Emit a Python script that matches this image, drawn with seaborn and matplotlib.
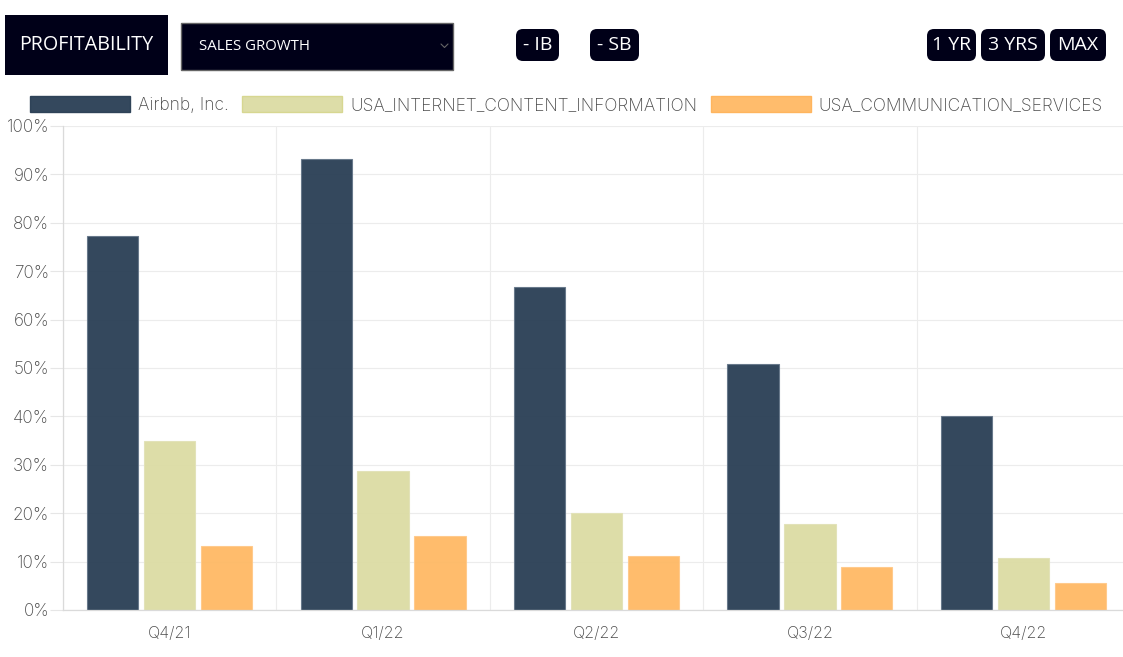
import matplotlib
matplotlib.use("Agg")
import matplotlib.pyplot as plt
from matplotlib.patches import FancyBboxPatch, Rectangle
import numpy as np
import pandas as pd
import seaborn as sns

quarters = ["Q4/21", "Q1/22", "Q2/22", "Q3/22", "Q4/22"]
series_names = ["Airbnb, Inc.", "USA_INTERNET_CONTENT_INFORMATION", "USA_COMMUNICATION_SERVICES"]
airbnb = [77.2, 93.1, 66.8, 50.9, 40.0]
internet = [35.0, 28.8, 20.0, 17.8, 10.8]
communication = [13.2, 15.2, 11.1, 8.9, 5.5]
y_ticks = [0, 10, 20, 30, 40, 50, 60, 70, 80, 90, 100]
colors = ["#293e54", "#dcdca4", "#ffb964"]
edges = ["#66778a", "#e2e2b8", "#ffc98a"]

W, H = 1123, 657
NAVY = "#000018"
TEXT = "#4a4a4a"

df = pd.DataFrame({
    "quarter": quarters * 3,
    "series": sum([[n] * 5 for n in series_names], []),
    "value": airbnb + internet + communication,
})

sns.set_style("white")
plt.rcParams["font.family"] = ["Inter", "DejaVu Sans"]

fig = plt.figure(figsize=(W / 100, H / 100), dpi=100)
ax = fig.add_axes([63 / W, 1 - 610 / H, (1130 - 63) / W, (610 - 126) / H])

sns.barplot(data=df, x="quarter", y="value", hue="series", order=quarters,
            hue_order=series_names, palette=colors, saturation=1, width=0.8,
            gap=0.1, alpha=0.95, linewidth=0.8, ax=ax)

# seaborn puts the bars in hue order
for container, edge in zip(ax.containers, edges):
    for bar in container:
        bar.set_edgecolor(edge)

ax.set_xlim(-0.5, 4.5)
ax.set_ylim(0, 100)
ax.set_xlabel("")
ax.set_ylabel("")
ax.set_yticks(y_ticks)
ax.set_yticklabels([f"{v}%" for v in y_ticks], fontsize=12.4, color=TEXT, fontweight="light")
ax.set_xticks(range(5))
ax.set_xticklabels(quarters, fontsize=11.6, color=TEXT, fontweight="light")
ax.set_xticks(np.arange(-0.5, 5), minor=True)
ax.tick_params(axis="x", which="major", length=0, pad=11.5)
ax.tick_params(axis="x", which="minor", length=7, width=0.8, color="#e6e6e6")
ax.tick_params(axis="y", length=9.5, width=0.8, color="#e6e6e6", pad=0.5, left=True)
ax.grid(True, axis="y", color="#ececec", linewidth=0.8)
ax.grid(True, axis="x", which="minor", color="#ececec", linewidth=0.8)
ax.set_axisbelow(True)
sns.despine(ax=ax, top=True, right=True)
for side in ["left", "bottom"]:
    ax.spines[side].set_color("#dadada")
    ax.spines[side].set_linewidth(0.9)

ax.legend().remove()
handles = [Rectangle((0, 0), 1, 1, facecolor=c, edgecolor=e, alpha=0.95)
           for c, e in zip(colors, ["#293e54", "#d6d68e", "#ffb35a"])]
leg = fig.legend(handles, series_names, ncol=3, frameon=False, fontsize=12.5,
                 handlelength=5.75, handleheight=1.0, handletextpad=0.45,
                 columnspacing=0.8, loc="center left", borderaxespad=0, borderpad=0,
                 bbox_to_anchor=(30 / W, 1 - 105 / H))
for t in leg.get_texts():
    t.set_color(TEXT)
    t.set_fontweight("light")

# toolbar above the chart, drawn in pixel coordinates
top = fig.add_axes([0, 0, 1, 1], zorder=5)
top.set_xlim(0, W)
top.set_ylim(H, 0)
top.axis("off")
top.patch.set_alpha(0)

top.add_patch(Rectangle((5, 15), 163, 60, facecolor=NAVY, edgecolor="none"))
top.text(86.5, 45, "PROFITABILITY", color="white", fontsize=14.2, ha="center", va="center",
         family="Open Sans", fontweight="medium")
top.add_patch(Rectangle((181, 22.5), 272, 47, facecolor=NAVY, edgecolor="#666666", linewidth=1))
top.text(199, 46, "SALES GROWTH", color="white", fontsize=10.8, ha="left", va="center",
         family="Open Sans")
top.plot([441, 444.5, 448], [44, 47.5, 44], color="#666666", linewidth=0.8)

buttons = [("- IB", 516, 559), ("- SB", 590, 639), ("1 YR", 927, 976),
           ("3 YRS", 981, 1045), ("MAX", 1050, 1106)]
for label, x0, x1 in buttons:
    top.add_patch(FancyBboxPatch((x0 + 6, 29 + 6), x1 - x0 - 12, 32 - 12,
                                 boxstyle="round,pad=6,rounding_size=7",
                                 facecolor=NAVY, edgecolor="none"))
    top.text((x0 + x1) / 2, 44.5, label, color="white", fontsize=14, ha="center", va="center",
             family="Open Sans", fontweight="medium")

fig.savefig("out.png", dpi=100)
